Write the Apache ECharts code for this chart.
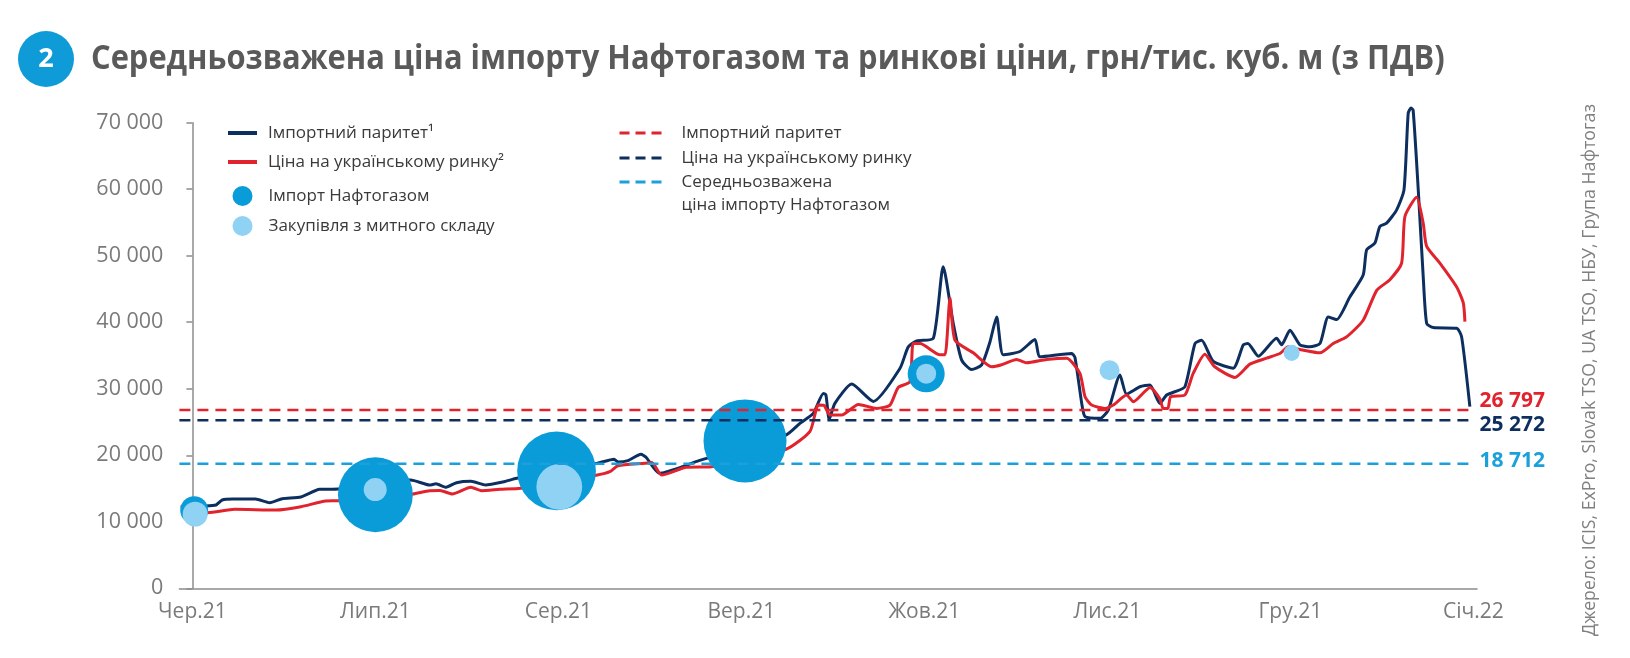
<!DOCTYPE html>
<html><head><meta charset="utf-8">
<script src="https://cdn.jsdelivr.net/npm/echarts@6/dist/echarts.min.js"></script>
<style>html,body{margin:0;padding:0;background:#fff}#c{width:1630px;height:658px}</style>
</head><body><div id="c"></div>
<script>
// ---- data (x = months since Чер.21, y = грн/тис. куб. м) ----
const monthLabels = ['Чер.21','Лип.21','Сер.21','Вер.21','Жов.21','Лис.21','Гру.21','Січ.22'];
const monthTicks = [0,1,2,3,4,5,6,7];

const importParity = [
 [-0.064,12270],[0.061,12370],[0.129,12520],[0.163,13280],[0.220,13430],[0.344,13430],[0.423,12870],[0.491,13470],
 [0.593,13730],[0.695,14880],[0.797,14930],[1.193,16280],[1.296,15530],[1.331,15700],[1.386,15190],[1.443,15880],
 [1.522,16090],[1.602,15530],[1.703,16030],[1.772,16540],[2.213,18790],[2.304,19400],[2.326,19000],[2.380,19200],
 [2.451,20150],[2.479,19700],[2.553,17290],[2.678,18280],[2.768,19190],[3.244,23050],[3.320,24800],[3.393,26300],
 [3.448,29300],[3.462,29100],[3.480,25400],[3.511,27800],[3.603,30700],[3.721,28100],[3.867,33080],[3.912,36300],
 [3.958,37200],[4.049,37600],[4.103,48350],[4.158,39800],[4.204,34300],[4.258,32900],[4.313,33600],[4.358,37000],
 [4.395,40800],[4.431,35100],[4.522,35600],[4.604,37400],[4.632,34800],[4.805,35300],[4.823,34700],[4.860,27800],
 [4.878,25800],[4.960,25550],[5.005,26800],[5.069,32070],[5.105,29200],[5.178,30300],[5.233,30570],[5.287,27800],
 [5.324,29060],[5.370,29560],[5.424,30300],[5.479,36800],[5.515,37300],[5.579,34100],[5.688,33100],[5.743,36600],
 [5.768,36800],[5.825,34900],[5.925,37600],[5.952,36600],[5.998,38800],[6.052,36600],[6.107,36300],[6.162,36800],
 [6.207,40800],[6.253,40400],[6.325,43800],[6.398,47100],[6.417,50900],[6.462,51900],[6.489,54400],[6.526,54900],
 [6.581,56900],[6.621,59900],[6.644,71400],[6.659,72200],[6.671,71900],[6.699,59900],[6.726,46900],[6.745,39800],
 [6.781,39200],[6.909,39100],[6.936,37800],[6.981,27300]
];
const marketPrice = [
 [-0.057,11560],[0.084,11370],[0.231,11870],[0.457,11770],[0.593,12270],[0.729,13130],[0.797,13170],[1.205,14180],
 [1.296,14680],[1.353,14700],[1.420,14180],[1.522,15190],[1.579,14680],[1.681,14880],[1.794,15040],[2.213,17030],
 [2.281,17530],[2.326,18430],[2.473,18790],[2.511,18900],[2.564,17030],[2.700,18190],[2.836,18280],[3.244,20900],
 [3.375,23600],[3.420,27550],[3.451,27500],[3.484,26050],[3.548,26050],[3.639,27650],[3.739,27050],[3.812,27550],
 [3.857,30200],[3.921,31060],[3.939,36800],[3.976,36800],[4.085,35100],[4.113,35100],[4.140,43600],[4.167,37300],
 [4.267,35400],[4.368,33300],[4.422,33600],[4.504,34400],[4.559,33900],[4.668,34400],[4.778,34600],[4.850,32300],
 [4.878,28800],[4.914,27550],[4.987,27050],[5.032,27550],[5.105,29060],[5.142,28050],[5.233,30200],[5.287,28500],
 [5.305,27050],[5.331,27050],[5.346,28800],[5.424,29060],[5.469,32300],[5.533,35200],[5.587,33300],[5.697,31700],
 [5.779,33700],[5.870,34600],[5.943,35300],[5.989,36300],[6.052,35900],[6.162,35400],[6.234,36800],[6.307,37800],
 [6.398,40300],[6.472,44800],[6.544,46400],[6.608,48900],[6.626,55900],[6.690,58800],[6.726,54900],[6.745,51400],
 [6.817,48900],[6.909,45300],[6.945,42900],[6.954,40100]
];
// bubbles: month, price, volume (relative)
const naftogazImportX = [0.01, 1.0, 1.99, 3.02, 4.01];
const naftogazImportY = [11750, 14060, 17650, 22150, 32250];
const naftogazImportVol = [7.8, 56, 62, 69, 13.7];
const customsX = [0.015, 0.999, 2.005, 4.01, 5.012, 6.007];
const customsY = [11150, 14840, 15250, 32270, 32780, 35400];
const customsVol = [6.2, 5.3, 21, 4, 4, 2.6];

const avgImportParity = 26797;
const avgMarketPrice = 25272;
const avgNaftogazImport = 18712;
const lineEnd = 6.985;

// ---- chart ----
const X_MIN = -0.071, X_MAX = 7.02;
const C_NAVY = '#0d2f5f', C_RED = '#e0232d', C_BLUE = '#0a9bd9', C_LIGHT = '#8fd2f4', C_DASHBLUE = '#1ba0dc';
const FONT = "'Open Sans', 'Noto Sans', sans-serif";
const fmt = v => String(v).replace(/\B(?=(\d{3})+(?!\d))/g, ' ');

function zipBubble(xs, ys, vs) { return xs.map((x, i) => [x, ys[i], vs[i]]); }
function flat(v) { return [[X_MIN, v], [lineEnd, v]]; }

const legendText = { fontFamily: FONT, fontSize: 17, color: '#3a3a3a', lineHeight: 20 };
const noSymbol = { color: 'rgba(0,0,0,0)', borderColor: 'rgba(0,0,0,0)', borderWidth: 0 };

const chart = echarts.init(document.getElementById('c'), null, { renderer: 'canvas' });
chart.setOption({
  animation: false,
  backgroundColor: '#fff',
  graphic: [
    { type: 'circle', shape: { cx: 46, cy: 59, r: 28 }, style: { fill: '#0f9bd8' } },
    { type: 'text', x: 46, y: 59, style: { text: '2', fill: '#fff', font: "bold 27px 'Open Sans', sans-serif", align: 'center', verticalAlign: 'middle' } },
    { type: 'text', x: 91, y: 59, scaleX: 0.907,
      style: { text: 'Середньозважена ціна імпорту Нафтогазом та ринкові ціни, грн/тис. куб. м (з ПДВ)',
        fill: '#5a5a5a', font: "bold 34px 'Open Sans', sans-serif", align: 'left', verticalAlign: 'middle' } },
    { type: 'text', x: 1590, y: 370, rotation: Math.PI / 2,
      style: { text: 'Джерело: ICIS, ExPro, Slovak TSO, UA TSO, НБУ, Група Нафтогаз', fill: '#808080',
        font: "17.7px 'Open Sans', sans-serif", align: 'center', verticalAlign: 'middle' } }
  ],
  grid: { left: 179.4, right: 153, top: 122.7, bottom: 69.7, containLabel: false },
  xAxis: {
    type: 'value', min: X_MIN, max: X_MAX,
    axisLine: { show: true, lineStyle: { color: '#8c8c8c', width: 1.5 } },
    axisTick: { show: false },
    splitLine: { show: false },
    axisLabel: {
      customValues: monthTicks,
      formatter: v => monthLabels[Math.round(v)],
      fontFamily: FONT, fontSize: 21, color: '#7a7a7a', margin: 13
    }
  },
  yAxis: {
    type: 'value', min: 0, max: 70000, interval: 10000,
    axisLine: { show: true, lineStyle: { color: '#8c8c8c', width: 1.5 } },
    axisTick: { show: true, length: 6, lineStyle: { color: '#8c8c8c', width: 1.5 } },
    splitLine: { show: false },
    axisLabel: { formatter: v => fmt(v), fontFamily: FONT, fontSize: 21.5, color: '#7a7a7a', margin: 16 }
  },
  legend: [
    { orient: 'vertical', left: 226, top: 123, padding: 0, itemGap: 9, itemWidth: 29, itemHeight: 14,
      data: ['Імпортний паритет¹', 'Ціна на українському ринку²'],
      itemStyle: noSymbol, lineStyle: { width: 4 }, textStyle: Object.assign({ padding: [0, 0, 0, 6] }, legendText) },
    { orient: 'vertical', left: 232.5, top: 186, padding: 0, itemGap: 10, itemWidth: 29, itemHeight: 20,
      data: ['Імпорт Нафтогазом', 'Закупівля з митного складу'],
      textStyle: Object.assign({ padding: [0, 0, 0, 6.5] }, legendText) },
    { orient: 'vertical', left: 618, top: 123, padding: 0, itemGap: 5, itemWidth: 42, itemHeight: 14,
      data: ['Імпортний паритет', 'Ціна на українському ринку'],
      itemStyle: noSymbol, lineStyle: { width: 3, type: [10, 6] }, textStyle: Object.assign({ padding: [0, 0, 0, 15] }, legendText) },
    { orient: 'vertical', left: 618, top: 147.5, padding: 0, itemWidth: 42, itemHeight: 14,
      data: ['Середньозважена\nціна імпорту Нафтогазом'],
      formatter: name => ' \n' + name,
      itemStyle: noSymbol, lineStyle: { width: 3, type: [10, 6] },
      textStyle: Object.assign({}, legendText, { lineHeight: 23, padding: [0, 0, 0, 15] }) }
  ],
  series: [
    { name: 'Імпортний паритет¹', type: 'line', data: importParity, symbol: 'none', smooth: 0.2, z: 2, clip: false,
      color: C_NAVY, lineStyle: { color: C_NAVY, width: 3 } },
    { name: 'Ціна на українському ринку²', type: 'line', data: marketPrice, symbol: 'none', smooth: 0.2, z: 2, clip: false,
      color: C_RED, lineStyle: { color: C_RED, width: 3 } },
    { name: 'Імпорт Нафтогазом', type: 'scatter', data: zipBubble(naftogazImportX, naftogazImportY, naftogazImportVol),
      symbolSize: d => 10 * Math.sqrt(d[2]), itemStyle: { color: C_BLUE, opacity: 1 }, z: 3 },
    { name: 'Закупівля з митного складу', type: 'scatter', data: zipBubble(customsX, customsY, customsVol),
      symbolSize: d => 10 * Math.sqrt(d[2]), itemStyle: { color: C_LIGHT, opacity: 1 }, z: 4 },
    { name: 'Імпортний паритет', type: 'line', data: flat(avgImportParity), symbol: 'none', z: 5, color: C_RED,
      lineStyle: { color: C_RED, width: 2.5, type: [11, 7] },
      endLabel: { show: true, formatter: p => fmt(p.value[1]), color: C_RED, fontFamily: FONT, fontWeight: 'bold', fontSize: 21, distance: 9, offset: [0, -9] } },
    { name: 'Ціна на українському ринку', type: 'line', data: flat(avgMarketPrice), symbol: 'none', z: 5, color: C_NAVY,
      lineStyle: { color: C_NAVY, width: 2.5, type: [11, 7] },
      endLabel: { show: true, formatter: p => fmt(p.value[1]), color: C_NAVY, fontFamily: FONT, fontWeight: 'bold', fontSize: 21, distance: 9, offset: [0, 5] } },
    { name: 'Середньозважена\nціна імпорту Нафтогазом', type: 'line', data: flat(avgNaftogazImport), symbol: 'none', z: 5, color: C_DASHBLUE,
      lineStyle: { color: C_DASHBLUE, width: 2.5, type: [11, 7] },
      endLabel: { show: true, formatter: p => fmt(p.value[1]), color: C_DASHBLUE, fontFamily: FONT, fontWeight: 'bold', fontSize: 21, distance: 9, offset: [0, -3] } }
  ]
});
</script></body></html>
